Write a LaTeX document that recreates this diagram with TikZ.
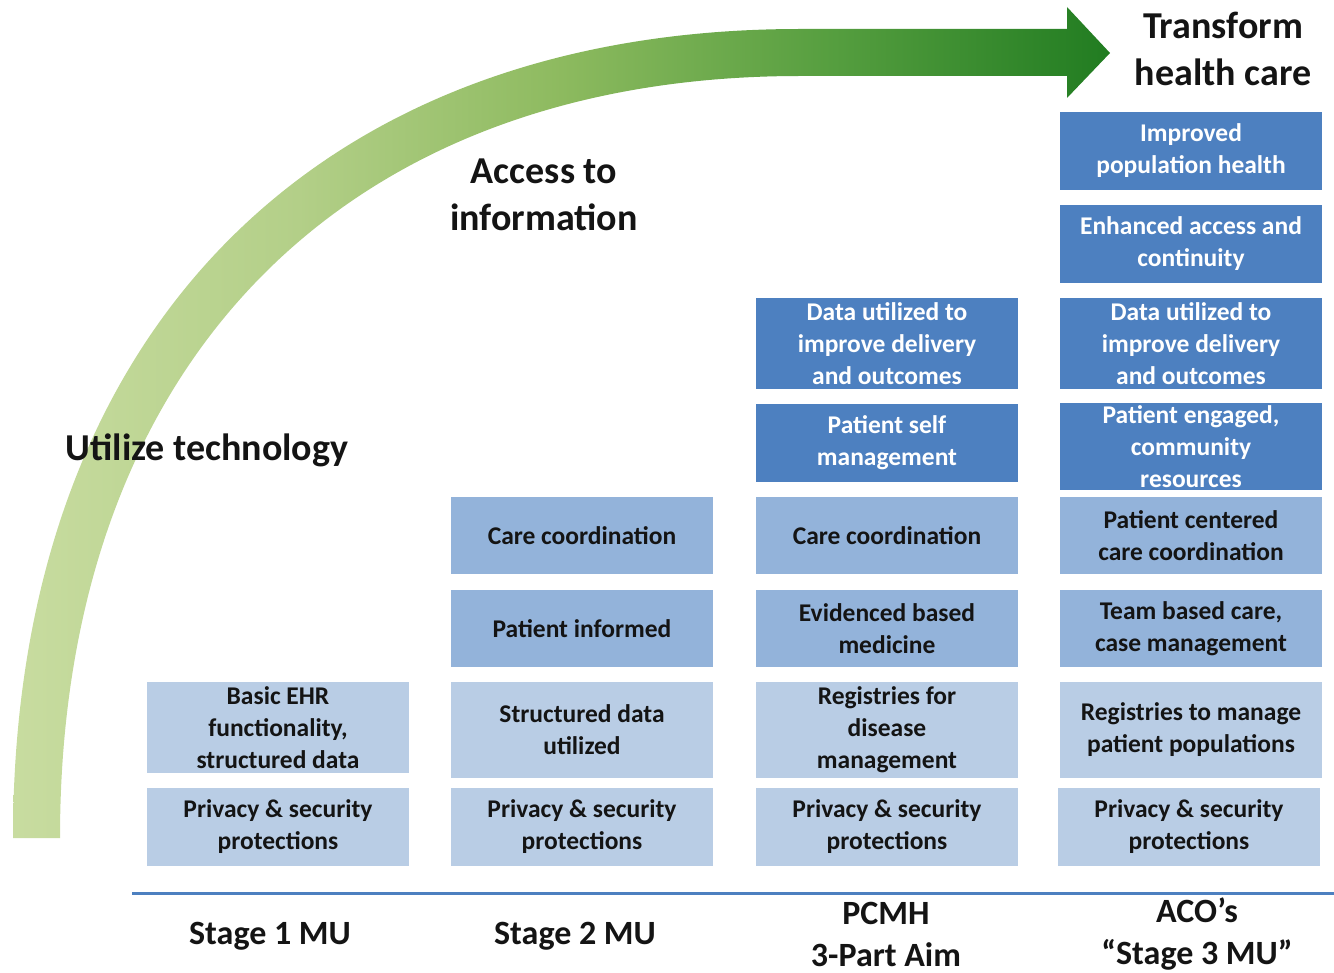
\documentclass[tikz,border=0pt]{standalone}
\usepackage{fontspec}
\setmainfont{Carlito}
\usepackage{tikz}
\usetikzlibrary{positioning}
\definecolor{cLite}{HTML}{B9CDE5}
\definecolor{cMid}{HTML}{93B3DA}
\definecolor{cDark}{HTML}{4D80C0}
\definecolor{cInk}{HTML}{141414}
\definecolor{gA}{HTML}{C8DCA0}
\definecolor{gB}{HTML}{B3CF88}
\definecolor{gC}{HTML}{8DBA5F}
\definecolor{gD}{HTML}{579F40}
\definecolor{gE}{HTML}{217C21}
\newcommand{\bxfont}{\fontsize{25.5}{32}\selectfont\bfseries}
\newcommand{\hdfont}{\fontsize{38}{47}\selectfont\bfseries}
\newcommand{\stfont}{\fontsize{34}{42}\selectfont\bfseries}
\pgfdeclarehorizontalshading{arcfade}{100bp}{color(0bp)=(gA); color(25bp)=(gA);
  color(38bp)=(gB); color(50bp)=(gC); color(62bp)=(gD); color(75bp)=(gE); color(100bp)=(gE)}
\tikzset{
  blk/.style={minimum width=262pt, minimum height=78pt, inner sep=0pt,
              align=center, font=\bxfont, text=cInk},
  blkL/.style={blk, fill=cLite},
  blkM/.style={blk, fill=cMid},
  blkD/.style={blk, fill=cDark, text=white},
  hd/.style={font=\hdfont, align=center, text=cInk},
  stg/.style={font=\stfont, align=center, text=cInk}
}

\begin{document}
\begin{tikzpicture}[x=1pt, y=-1pt]
\useasboundingbox (0,0) rectangle (1334,973);
% the growth arrow: curved band, straight run, head
\shade[shading=arcfade] (13,838) .. controls (13,336) and (312,29) .. (800,29)
  -- (1067,29) -- (1067,7) -- (1110,53) -- (1067,98) -- (1067,76) -- (800,76)
  .. controls (341,76) and (60,366) .. (60,838) -- cycle;
\node[hd] (transform) at (1223,49) {Transform\\health care};
\node[hd] (access) at (544,195) {Access to\\information};
\node[hd] (utilize) at (207,450) {Utilize technology};
% building blocks, bottom row up
\foreach \x/\n in {278/1,582/2,887/3,1189/4}
  \node[blkL] (priv\n) at (\x,827) {Privacy \& security\\protections};
\node[blkL, minimum height=91pt] (ehr) at (278,727.5) {Basic EHR\\functionality,\\structured data};
\node[blkL, minimum height=96pt] (sdata) at (582,730) {Structured data\\utilized};
\node[blkL, minimum height=96pt] (regdis) at (887,730) {Registries for\\disease\\management};
\node[blkL, minimum height=96pt] (regpop) at (1191,730) {Registries to manage\\patient populations};
\node[blkM, minimum height=77pt] (informed) at (582,628.5) {Patient informed};
\node[blkM, minimum height=77pt] (ebm) at (887,628.5) {Evidenced based\\medicine};
\node[blkM, minimum height=77pt] (team) at (1191,628.5) {Team based care,\\case management};
\node[blkM, minimum height=77pt] (cc2) at (582,535.5) {Care coordination};
\node[blkM, minimum height=77pt] (cc3) at (887,535.5) {Care coordination};
\node[blkM, minimum height=77pt] (pcc) at (1191,535.5) {Patient centered\\care coordination};
\node[blkD] (selfmgmt) at (887,443) {Patient self\\management};
\node[blkD, minimum height=87pt] (engaged) at (1191,446.5) {Patient engaged,\\community\\resources};
\node[blkD, minimum height=91pt] (data3) at (887,343.5) {Data utilized to\\improve delivery\\and outcomes};
\node[blkD, minimum height=91pt] (data4) at (1191,343.5) {Data utilized to\\improve delivery\\and outcomes};
\node[blkD] (contin) at (1191,244) {Enhanced access and\\continuity};
\node[blkD] (pophealth) at (1191,151) {Improved\\population health};
% stages
\draw[cDark, line width=3pt] (132,893) -- (1334,893);
\node[stg] (st1) at (270,936) {Stage 1 MU};
\node[stg] (st2) at (575,936) {Stage 2 MU};
\node[stg] (pcmh) at (886,934) {PCMH\\3-Part Aim};
\node[stg] (aco) at (1197,934) {ACO’s\\“Stage 3 MU”};
\end{tikzpicture}
\end{document}
